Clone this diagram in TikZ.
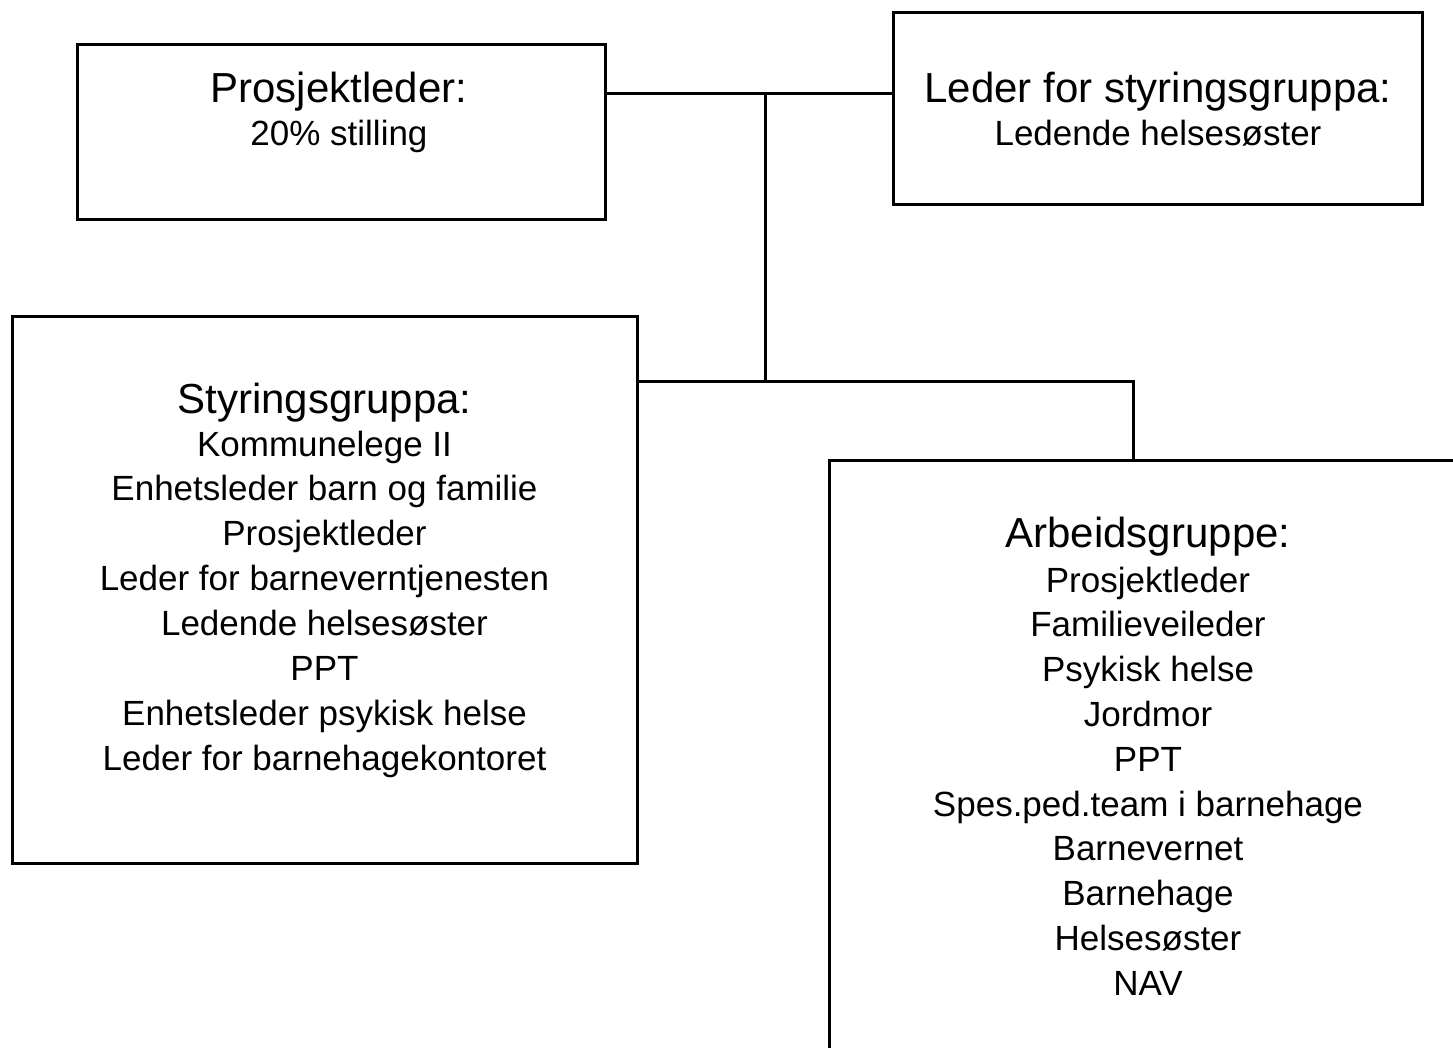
\documentclass[tikz,border=0pt]{standalone}
\usepackage{fontspec}
\setmainfont{Liberation Sans}
\begin{document}
\begin{tikzpicture}[x=1pt,y=-1pt,
  box/.style={draw=black, line width=3pt, inner sep=0pt, fill=none},
  conn/.style={draw=black, line width=3pt},
  ttl/.style={anchor=base, inner sep=0pt, font=\fontsize{42}{50}\selectfont},
  itm/.style={anchor=base, inner sep=0pt, font=\fontsize{35}{42}\selectfont}]
\useasboundingbox (0,0) rectangle (1453,1047);
% boxes
\node[box, minimum width=528pt, minimum height=175pt] (pl) at (341,131.5) {};
\node[box, minimum width=529pt, minimum height=192pt] (lf) at (1157.5,108) {};
\node[box, minimum width=625pt, minimum height=547pt] (sg) at (324.5,589.5) {};
\node[box, minimum width=637pt, minimum height=680pt] (ag) at (1147.5,800) {};
% texts
\node[ttl] (pl-t) at (339,102) {Prosjektleder:};
\node[itm] (pl-1) at (339,145) {20\% stilling};
\node[ttl] (lf-t) at (1158,102) {Leder for styringsgruppa:};
\node[itm] (lf-1) at (1158,145) {Ledende helsesøster};
\node[ttl] (sg-t) at (324.5,413) {Styringsgruppa:};
\foreach \txt [count=\i] in {Kommunelege II, Enhetsleder barn og familie, Prosjektleder,
  Leder for barneverntjenesten, Ledende helsesøster, PPT, Enhetsleder psykisk helse,
  Leder for barnehagekontoret}
  \node[itm] (sg-\i) at (324.5,{456+44.9*(\i-1)}) {\txt};
\node[ttl] (ag-t) at (1148,547) {Arbeidsgruppe:};
\foreach \txt [count=\i] in {Prosjektleder, Familieveileder, Psykisk helse, Jordmor, PPT,
  Spes.ped.team i barnehage, Barnevernet, Barnehage, Helsesøster, NAV}
  \node[itm] (ag-\i) at (1148,{592+44.8*(\i-1)}) {\txt};
% connectors
\coordinate (j1) at (765,93);
\coordinate (j2) at (765,381);
\coordinate (j3) at (1133,381);
\draw[conn] (pl.east |- j1) -- (lf.west |- j1);
\draw[conn] (j1) -- (j2);
\draw[conn] (sg.east |- j2) -- (j3) -- (j3 |- ag.north);
\end{tikzpicture}
\end{document}
